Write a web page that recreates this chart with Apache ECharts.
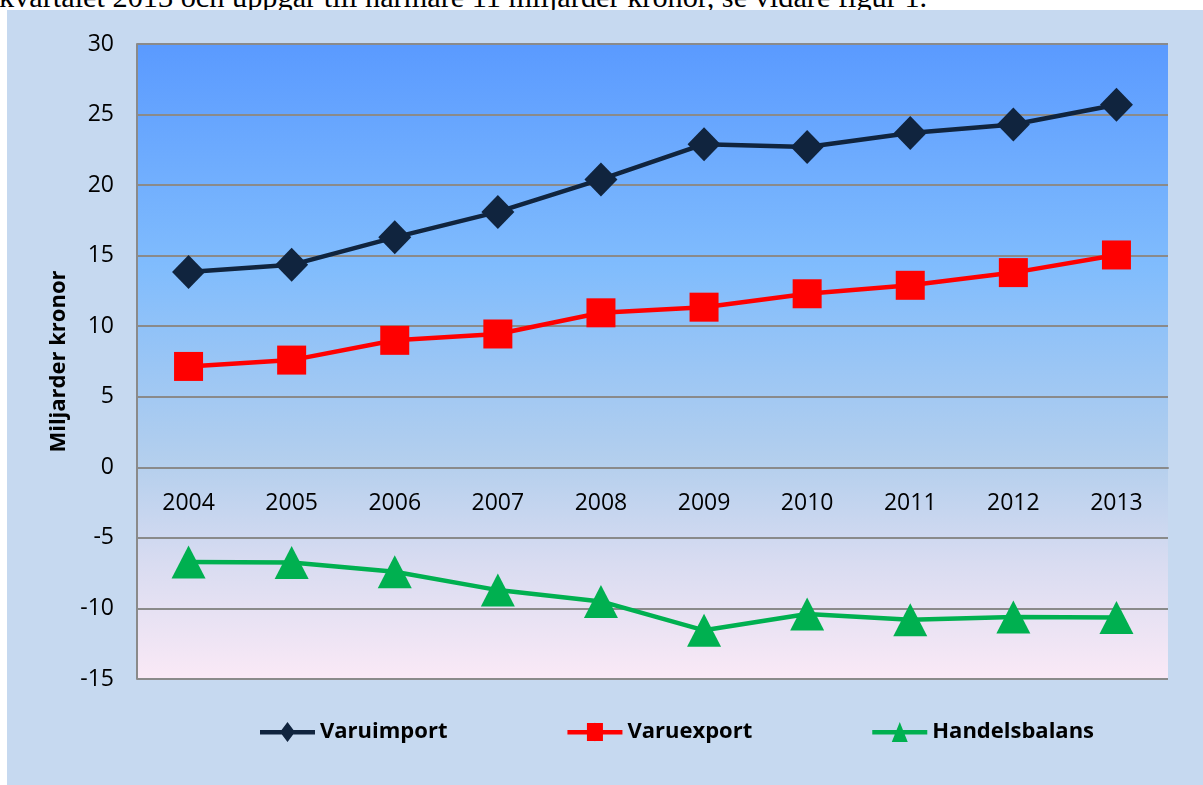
<!DOCTYPE html>
<html>
<head>
<meta charset="utf-8">
<script src="https://cdn.jsdelivr.net/npm/echarts@6/dist/echarts.min.js"></script>
<style>
  html, body { margin: 0; padding: 0; background: #fff; overflow: hidden; }
  #intro {
    position: absolute; left: -1px; top: -18px;
    font-family: "Liberation Serif", serif; font-size: 30.3px; line-height: 30px;
    color: #000; white-space: nowrap;
  }
  #chart {
    position: absolute; left: 7px; top: 10px; width: 1196px; height: 775px;
    background: #c6d9f0;
  }
</style>
</head>
<body>
<div id="intro">kvartalet 2013 och uppgår till närmare 11 miljarder kronor, se vidare figur 1.</div>
<div id="chart"></div>
<script>
// årsdata, miljarder kronor
const years = ['2004', '2005', '2006', '2007', '2008', '2009', '2010', '2011', '2012', '2013'];
const varuimport = [13.85, 14.35, 16.3, 18.1, 20.4, 22.9, 22.7, 23.7, 24.3, 25.7];
const varuexport = [7.15, 7.6, 9.0, 9.45, 10.95, 11.35, 12.3, 12.9, 13.8, 15.05];
const handelsbalans = [-6.7, -6.75, -7.4, -8.7, -9.5, -11.55, -10.4, -10.8, -10.6, -10.65];
const yMin = -15, yMax = 30, yStep = 5;

const font = '"Open Sans", sans-serif';
const gridGray = '#8a8a8a';

// legend icons: line + marker in a 55x20 box
const bar = 'M0,8 L55,8 L55,12.5 L0,12.5 Z ';
const iconDiamond = 'path://' + bar + 'M27.5,0 L35,10 L27.5,20 L20,10 Z';
const iconSquare = 'path://' + bar + 'M19.5,1 L35.5,1 L35.5,19 L19.5,19 Z M27.5,0 L27.6,0 L27.6,20 L27.5,20 Z';
const iconTriangle = 'path://' + bar + 'M27.5,0 L35.5,20 L19.5,20 Z';

const chart = echarts.init(document.getElementById('chart'));

chart.setOption({
  animation: false,
  textStyle: { fontFamily: font },
  grid: {
    left: 130, top: 34, right: 35, bottom: 106,
    show: true,
    borderWidth: 0,
    backgroundColor: new echarts.graphic.LinearGradient(0, 0, 0, 1, [
      { offset: 0, color: '#5a9aff' },
      { offset: 0.35, color: '#80bcfd' },
      { offset: 0.66, color: '#b4cfed' },
      { offset: 0.82, color: '#d9dcf1' },
      { offset: 1, color: '#fae9f6' }
    ])
  },
  legend: {
    left: 253, top: 711, padding: 0,
    itemWidth: 55, itemHeight: 20, itemGap: 120,
    textStyle: { fontFamily: font, fontSize: 22, fontWeight: 'bold', color: '#000' },
    data: [
      { name: 'Varuimport', icon: iconDiamond },
      { name: 'Varuexport', icon: iconSquare },
      { name: 'Handelsbalans', icon: iconTriangle }
    ]
  },
  xAxis: {
    type: 'category',
    data: years,
    axisLine: { onZero: false, lineStyle: { color: gridGray, width: 2 } },
    axisTick: { show: false },
    axisLabel: { fontFamily: font, fontSize: 23, color: '#000', margin: 25 },
    splitLine: { show: false }
  },
  yAxis: {
    type: 'value',
    min: yMin, max: yMax, interval: yStep,
    name: 'Miljarder kronor',
    nameLocation: 'middle',
    nameGap: 67,
    nameTextStyle: { fontFamily: font, fontSize: 22, fontWeight: 'bold', color: '#000' },
    axisLine: { show: true, lineStyle: { color: gridGray, width: 2 } },
    axisTick: { show: false },
    axisLabel: { fontFamily: font, fontSize: 23, color: '#000', margin: 23 },
    splitLine: { lineStyle: { color: gridGray, width: 2 } }
  },
  series: [
    {
      name: 'Varuimport', type: 'line', data: varuimport,
      symbol: 'diamond', symbolSize: [33, 34],
      lineStyle: { width: 4.5, color: '#10243e' },
      itemStyle: { color: '#10243e' },
      emphasis: { disabled: true }
    },
    {
      name: 'Varuexport', type: 'line', data: varuexport,
      symbol: 'rect', symbolSize: 29,
      lineStyle: { width: 4.5, color: '#ff0000' },
      itemStyle: { color: '#ff0000' },
      emphasis: { disabled: true }
    },
    {
      name: 'Handelsbalans', type: 'line', data: handelsbalans,
      symbol: 'triangle', symbolSize: [34, 33],
      lineStyle: { width: 4.5, color: '#00b050' },
      itemStyle: { color: '#00b050' },
      emphasis: { disabled: true }
    }
  ]
});

// move the category axis up to the zero line (onZero does not kick in here)
const zeroY = chart.convertToPixel({ yAxisIndex: 0 }, 0);
const bottomY = chart.convertToPixel({ yAxisIndex: 0 }, yMin);
chart.setOption({ xAxis: { offset: zeroY - bottomY } });
</script>
</body>
</html>
